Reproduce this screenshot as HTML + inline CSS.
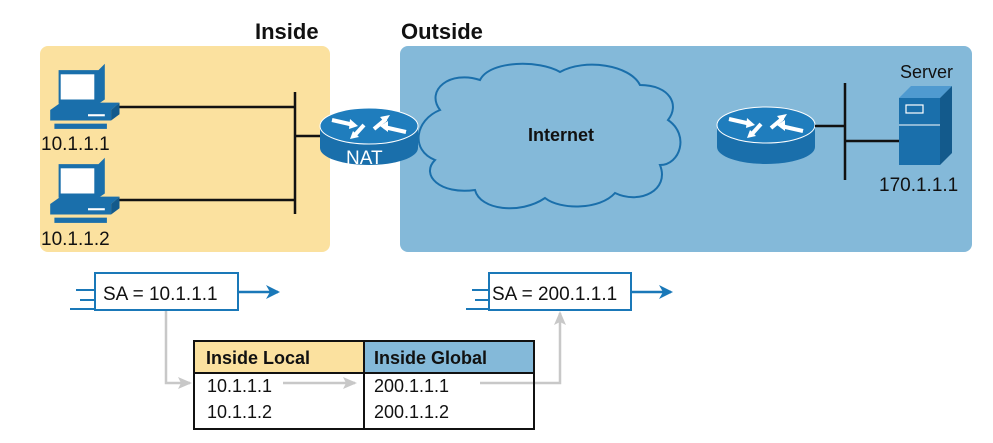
<!DOCTYPE html>
<html><head><meta charset="utf-8"><style>
html,body{margin:0;padding:0;background:#fff;}
svg text{font-family:"Liberation Sans",Arial,sans-serif;}
</style></head><body>
<svg width="993" height="438" viewBox="0 0 993 438" xmlns="http://www.w3.org/2000/svg">
<defs>
<g id="pc">
  <path d="M12 2 L50 2 L56 -4 L56 30 L50 34 L12 34 Z" fill="#1a6fab"/>
  <rect x="14" y="6" width="32" height="24" fill="#fff"/>
  <path d="M4 40 L62 40 L70 33 L14 33 Z" fill="#1a6fab"/>
  <rect x="4" y="40" width="58" height="10" fill="#1a6fab"/>
  <path d="M62 50 L70 44 L70 33 L62 40Z" fill="#135a8c"/>
  <rect x="40" y="44" width="16" height="2" fill="#fff"/>
  <rect x="8" y="53" width="50" height="5" fill="#1a6fab"/>
</g>
<g id="router">
  <path d="M0 18 L0 40 A49 17 0 0 0 98 40 L98 18 Z" fill="#1a6fab"/>
  <ellipse cx="49" cy="18" rx="49" ry="18" fill="#1f7dbd" stroke="#fff" stroke-width="1"/>
  <path d="M12 12 L34 17" stroke="#fff" stroke-width="4"/><path d="M38 18 L30 11 L29 21Z" fill="#fff"/>
  <path d="M54 21 L66 11" stroke="#fff" stroke-width="4"/><path d="M70 7 L60 9 L65 15Z" fill="#fff"/>
  <path d="M86 24 L64 19" stroke="#fff" stroke-width="4"/><path d="M60 18 L68 13 L68 24Z" fill="#fff"/>
  <path d="M44 17 L34 28" stroke="#fff" stroke-width="4"/><path d="M30 31 L39 29 L33 23Z" fill="#fff"/>
</g>
<marker id="ab" markerWidth="14" markerHeight="14" refX="12" refY="7" orient="auto" markerUnits="userSpaceOnUse"><path d="M0 0 L14 7 L0 14 L4 7Z" fill="#1a78b8"/></marker>
<marker id="ag" markerWidth="14" markerHeight="12" refX="12" refY="6" orient="auto" markerUnits="userSpaceOnUse"><path d="M0 0 L14 6 L0 12 L3 6Z" fill="#c8c8c8"/></marker>
</defs>

<text x="255" y="39" font-size="22" font-weight="bold" fill="#111">Inside</text>
<text x="401" y="39" font-size="22" font-weight="bold" fill="#111">Outside</text>

<rect x="40" y="46" width="290" height="206" rx="8" fill="#fbe19f"/>
<rect x="400" y="46" width="572" height="206" rx="8" fill="#84b9d9"/>

<line x1="118" y1="107" x2="295" y2="107" stroke="#111" stroke-width="2.5"/>
<line x1="118" y1="200" x2="295" y2="200" stroke="#111" stroke-width="2.5"/>
<line x1="295" y1="92" x2="295" y2="214" stroke="#111" stroke-width="2.5"/>
<line x1="295" y1="136" x2="322" y2="136" stroke="#111" stroke-width="2.5"/>
<g transform="translate(46,68) scale(1.05)"><use href="#pc"/></g>
<g transform="translate(46,162) scale(1.05)"><use href="#pc"/></g>
<text x="41" y="150" font-size="19" fill="#111">10.1.1.1</text>
<text x="41" y="245" font-size="19" fill="#111">10.1.1.2</text>

<path d="M440 110 C425 90 450 70 480 80 C490 60 540 60 560 72 C585 58 630 65 640 85 C670 85 680 105 668 120 C690 135 680 165 660 165 C670 190 640 205 615 193 C600 210 560 210 545 198 C520 215 480 210 475 190 C440 195 420 175 435 160 C410 150 415 120 440 110 Z" fill="#84b9d9" stroke="#1a6fab" stroke-width="2"/>
<text x="528" y="141" font-size="18" font-weight="bold" fill="#111">Internet</text>

<use href="#router" x="320" y="108"/>
<text x="346" y="164" font-size="19" fill="#fff">NAT</text>
<use href="#router" x="717" y="107"/>

<line x1="815" y1="126" x2="845" y2="126" stroke="#111" stroke-width="2.5"/>
<line x1="845" y1="83" x2="845" y2="180" stroke="#111" stroke-width="2.5"/>
<line x1="845" y1="141" x2="899" y2="141" stroke="#111" stroke-width="2.5"/>
<path d="M899 98 L940 98 L952 86 L911 86 Z" fill="#4f9ad0"/>
<rect x="899" y="98" width="41" height="67" fill="#1a6fab"/>
<path d="M940 98 L952 86 L952 153 L940 165Z" fill="#135a8c"/>
<rect x="906" y="105" width="17" height="8" fill="none" stroke="#fff" stroke-width="1.2"/>
<line x1="899" y1="125" x2="940" y2="125" stroke="#fff" stroke-width="1"/>
<text x="900" y="78" font-size="18" fill="#111">Server</text>
<text x="879" y="191" font-size="19" fill="#111">170.1.1.1</text>

<rect x="95" y="273" width="143" height="37" fill="#fff" stroke="#1a78b8" stroke-width="2"/>
<path d="M76 290 H95 M80 300 H95 M70 309 H95" stroke="#1a78b8" stroke-width="2"/>
<line x1="238" y1="292" x2="278" y2="292" stroke="#1a78b8" stroke-width="2.5" marker-end="url(#ab)"/>
<text x="103" y="300" font-size="19" fill="#111">SA = 10.1.1.1</text>
<rect x="489" y="273" width="142" height="37" fill="#fff" stroke="#1a78b8" stroke-width="2"/>
<path d="M472 290 H489 M475 300 H489 M466 309 H489" stroke="#1a78b8" stroke-width="2"/>
<line x1="631" y1="292" x2="671" y2="292" stroke="#1a78b8" stroke-width="2.5" marker-end="url(#ab)"/>
<text x="492" y="300" font-size="19" fill="#111">SA = 200.1.1.1</text>

<path d="M166 311 V383 H190" fill="none" stroke="#c8c8c8" stroke-width="2.5" marker-end="url(#ag)"/>
<line x1="283" y1="383" x2="355" y2="383" stroke="#c8c8c8" stroke-width="2.5" marker-end="url(#ag)"/>
<path d="M480 383 H560 V313" fill="none" stroke="#c8c8c8" stroke-width="2.5" marker-end="url(#ag)"/>

<rect x="194" y="341" width="170" height="32" fill="#fbe19f"/>
<rect x="364" y="341" width="170" height="32" fill="#84b9d9"/>
<rect x="194" y="341" width="340" height="88" fill="none" stroke="#111" stroke-width="2"/>
<line x1="194" y1="373" x2="534" y2="373" stroke="#111" stroke-width="2"/>
<line x1="364" y1="341" x2="364" y2="429" stroke="#111" stroke-width="2"/>
<text x="206" y="364" font-size="18" font-weight="bold" fill="#111">Inside Local</text>
<text x="374" y="364" font-size="18" font-weight="bold" fill="#111">Inside Global</text>
<text x="207" y="392" font-size="18" fill="#111">10.1.1.1</text>
<text x="207" y="418" font-size="18" fill="#111">10.1.1.2</text>
<text x="374" y="392" font-size="18" fill="#111">200.1.1.1</text>
<text x="374" y="418" font-size="18" fill="#111">200.1.1.2</text>
</svg>
</body></html>
